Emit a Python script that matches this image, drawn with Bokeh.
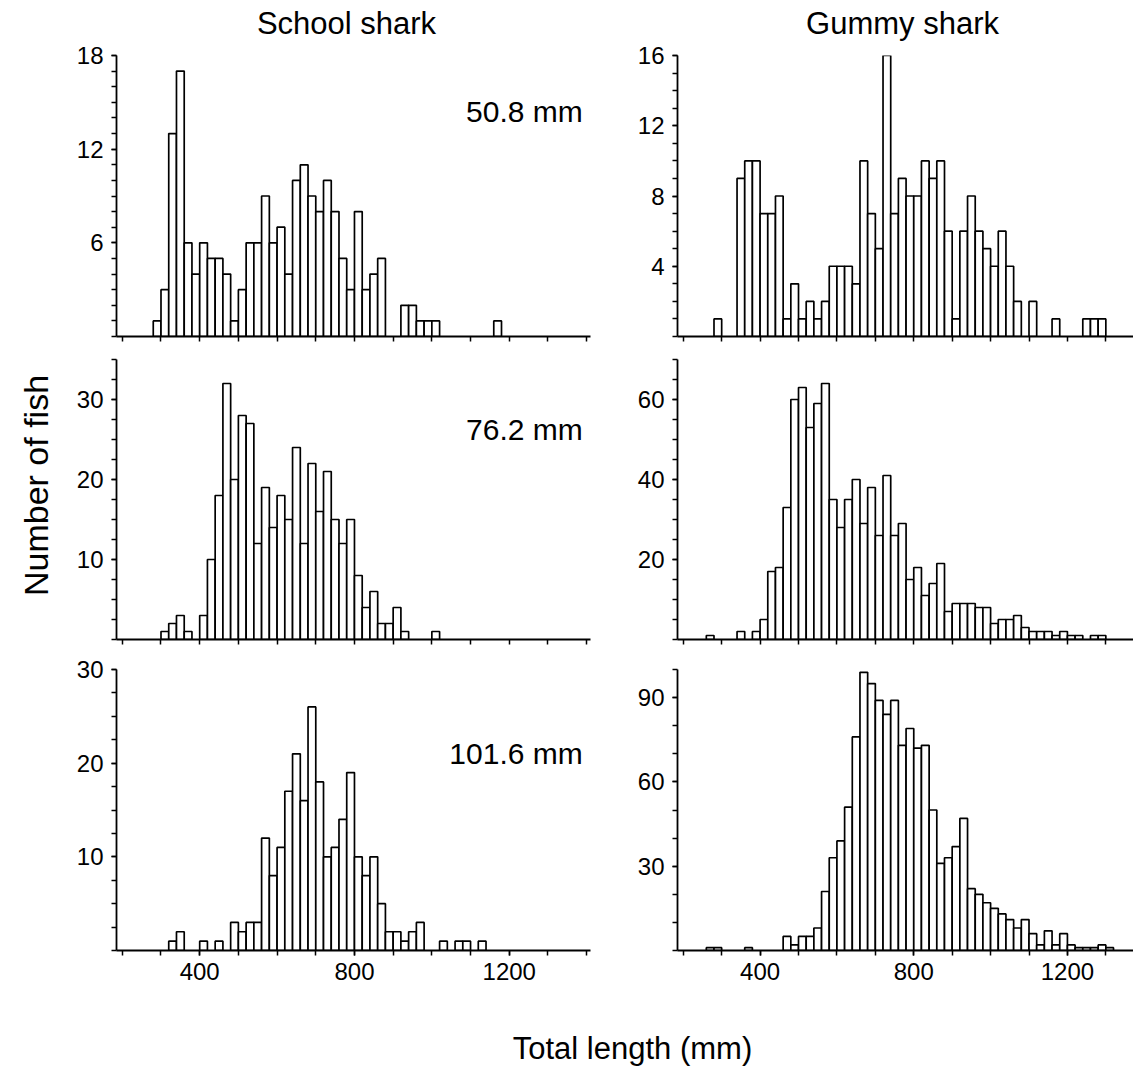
import math
from bokeh.plotting import figure
from bokeh.layouts import column, row
from bokeh.models import FixedTicker, Label, ColumnDataSource
from bokeh.embed import file_html
from bokeh.resources import INLINE

FONT = "Liberation Sans"
BIN_WIDTH = 20  # mm length classes

# ---- data: counts per 20 mm length class (first = left edge of first class, mm)
school_508_first = 280
school_508_counts = [1, 3, 13, 17, 6, 4, 6, 5, 5, 4, 1, 3, 6, 6, 9, 6, 7, 4, 10, 11,
                     9, 8, 10, 8, 5, 3, 8, 3, 4, 5, 0, 0, 2, 2, 1, 1, 1, 0, 0, 0,
                     0, 0, 0, 0, 1]
gummy_508_first = 280
gummy_508_counts = [1, 0, 0, 9, 10, 10, 7, 7, 8, 1, 3, 1, 2, 1, 2, 4, 4, 4, 3, 10,
                    7, 5, 16, 7, 9, 8, 8, 10, 9, 10, 6, 1, 6, 8, 6, 5, 4, 6, 4, 2,
                    0, 2, 0, 0, 1, 0, 0, 0, 1, 1, 1]
school_762_first = 300
school_762_counts = [1, 2, 3, 1, 0, 3, 10, 18, 32, 20, 28, 27, 12, 19, 14, 18, 15, 24, 12, 22,
                     16, 21, 15, 12, 15, 8, 4, 6, 2, 2, 4, 1, 0, 0, 0, 1]
gummy_762_first = 260
gummy_762_counts = [1, 0, 0, 0, 2, 0, 2, 5, 17, 18, 33, 60, 63, 53, 59, 64, 35, 28, 35, 40,
                    29, 38, 26, 41, 26, 29, 15, 18, 11, 14, 19, 7, 9, 9, 9, 8, 8, 4, 5, 5,
                    6, 3, 2, 2, 2, 1, 2, 1, 1, 0, 1, 1]
school_1016_first = 320
school_1016_counts = [1, 2, 0, 0, 1, 0, 1, 0, 3, 2, 3, 3, 12, 8, 11, 17, 21, 16, 26, 18,
                      10, 11, 14, 19, 10, 8, 10, 5, 2, 2, 1, 2, 3, 0, 0, 1, 0, 1, 1, 0, 1]
gummy_1016_first = 260
gummy_1016_counts = [1, 1, 0, 0, 0, 1, 0, 0, 0, 0, 5, 2, 5, 5, 8, 21, 33, 39, 51, 76,
                     99, 95, 89, 84, 89, 73, 79, 72, 73, 50, 31, 33, 37, 47, 22, 20, 17, 15, 13, 11,
                     8, 11, 6, 2, 7, 2, 6, 2, 1, 1, 1, 2, 1]

species = ["School shark", "Gummy shark"]
mesh_labels = ["50.8 mm", "76.2 mm", "101.6 mm"]
y_title = "Number of fish"
x_title = "Total length (mm)"

x_major_ticks = [400, 800, 1200]
x_minor_ticks = [200, 300, 400, 500, 600, 700, 800, 900, 1000, 1100, 1200, 1300, 1400]

school_508_yticks = [6, 12, 18]
school_508_yminor = list(range(0, 19))
gummy_508_yticks = [4, 8, 12, 16]
gummy_508_yminor = list(range(0, 17))
school_762_yticks = [10, 20, 30]
school_762_yminor = [0, 2.5, 5, 7.5, 10, 12.5, 15, 17.5, 20, 22.5, 25, 27.5, 30, 32.5, 35]
gummy_762_yticks = [20, 40, 60]
gummy_762_yminor = [0, 5, 10, 15, 20, 25, 30, 35, 40, 45, 50, 55, 60, 65, 70]
school_1016_yticks = [10, 20, 30]
school_1016_yminor = [0, 2.5, 5, 7.5, 10, 12.5, 15, 17.5, 20, 22.5, 25, 27.5, 30]
gummy_1016_yticks = [30, 60, 90]
gummy_1016_yminor = [0, 10, 20, 30, 40, 50, 60, 70, 80, 90, 100]

# ---- layout geometry (pixels)
PAGE_W = 1133
HEADER_H = 42
STRIP_W = 64
COLS = [dict(frame_width=474, min_border_left=52, min_border_right=17, x_range=(185, 1410)),
        dict(frame_width=456, min_border_left=70, min_border_right=0, x_range=(185, 1372))]
ROWS = [dict(frame_height=281, min_border_top=13, min_border_bottom=12),
        dict(frame_height=280, min_border_top=11, min_border_bottom=15),
        dict(frame_height=281, min_border_top=15, min_border_bottom=40)]
YMAX = [[18, 16], [35, 70], [30, 100]]
LABEL_Y = [14.4, 26.3, 21.0]


def blank(width, height):
    f = figure(width=width, height=height, x_range=(0, width), y_range=(0, height),
               min_border=0, x_axis_location=None, y_axis_location=None,
               output_backend="svg", toolbar_location=None)
    f.xgrid.visible = False
    f.ygrid.visible = False
    f.outline_line_color = None
    return f


def panel(first, counts, yticks, yminor, r, c):
    cg, rg = COLS[c], ROWS[r]
    p = figure(frame_width=cg["frame_width"], frame_height=rg["frame_height"],
               min_border_left=cg["min_border_left"], min_border_right=cg["min_border_right"],
               min_border_top=rg["min_border_top"], min_border_bottom=rg["min_border_bottom"],
               x_range=cg["x_range"], y_range=(0, YMAX[r][c]),
               output_backend="svg", toolbar_location=None)
    lefts, rights, tops = [], [], []
    for i, n in enumerate(counts):
        if n > 0:
            lefts.append(first + i * BIN_WIDTH)
            rights.append(first + (i + 1) * BIN_WIDTH)
            tops.append(n)
    src = ColumnDataSource(dict(left=lefts, right=rights, top=tops))
    p.quad(left="left", right="right", bottom=0, top="top", source=src,
           fill_color="white", line_color="black", line_width=1.7)

    p.xgrid.visible = False
    p.ygrid.visible = False
    p.outline_line_color = None
    p.background_fill_color = "white"
    p.border_fill_color = "white"

    if r == 2:
        p.xaxis.ticker = FixedTicker(ticks=x_major_ticks, minor_ticks=x_minor_ticks)
    else:
        p.xaxis.ticker = FixedTicker(ticks=[], minor_ticks=x_minor_ticks)
    p.yaxis.ticker = FixedTicker(ticks=yticks, minor_ticks=yminor)
    for ax in (p.xaxis, p.yaxis):
        ax.axis_line_color = "black"
        ax.axis_line_width = 1.8
        ax.major_tick_line_color = "black"
        ax.minor_tick_line_color = "black"
        ax.major_tick_line_width = 1.5
        ax.minor_tick_line_width = 1.5
        ax.major_tick_in = 0
        ax.minor_tick_in = 0
        ax.major_tick_out = 5
        ax.minor_tick_out = 5
        ax.major_label_text_font = FONT
        ax.major_label_text_font_size = "24px"
        ax.major_label_text_color = "black"
    p.yaxis.major_label_standoff = 8
    p.xaxis.major_label_standoff = 7

    if c == 0:
        p.add_layout(Label(x=1390, y=LABEL_Y[r], text=mesh_labels[r], text_align="right",
                           text_baseline="middle", text_font=FONT, text_font_size="30px",
                           text_color="black"))
    return p


data = [[(school_508_first, school_508_counts, school_508_yticks, school_508_yminor),
         (gummy_508_first, gummy_508_counts, gummy_508_yticks, gummy_508_yminor)],
        [(school_762_first, school_762_counts, school_762_yticks, school_762_yminor),
         (gummy_762_first, gummy_762_counts, gummy_762_yticks, gummy_762_yminor)],
        [(school_1016_first, school_1016_counts, school_1016_yticks, school_1016_yminor),
         (gummy_1016_first, gummy_1016_counts, gummy_1016_yticks, gummy_1016_yminor)]]

rows = []
for r in range(3):
    rows.append(row(*[panel(*data[r][c], r, c) for c in range(2)]))

grid_h = sum(rg["frame_height"] + rg["min_border_top"] + rg["min_border_bottom"] for rg in ROWS)

# column titles
header = blank(PAGE_W, HEADER_H)
for name, cx in zip(species, [346, 902]):
    header.add_layout(Label(x=cx, y=HEADER_H - 22.5, text=name, text_align="center",
                            text_baseline="middle", text_font=FONT, text_font_size="31px",
                            text_color="black"))

# y-axis title strip
strip = blank(STRIP_W, grid_h)
strip.add_layout(Label(x=35, y=grid_h - (485 - HEADER_H), text=y_title, angle=math.pi / 2,
                       text_align="center", text_baseline="middle", text_font=FONT,
                       text_font_size="34px", text_color="black"))

# x-axis title
bottom = blank(PAGE_W, 80)
bottom.add_layout(Label(x=632, y=80 - 58, text=x_title, text_align="center",
                        text_baseline="middle", text_font=FONT, text_font_size="31px",
                        text_color="black"))

layout = column(header, row(strip, column(*rows)), bottom)
open("out.html", "w").write(file_html(layout, INLINE))
